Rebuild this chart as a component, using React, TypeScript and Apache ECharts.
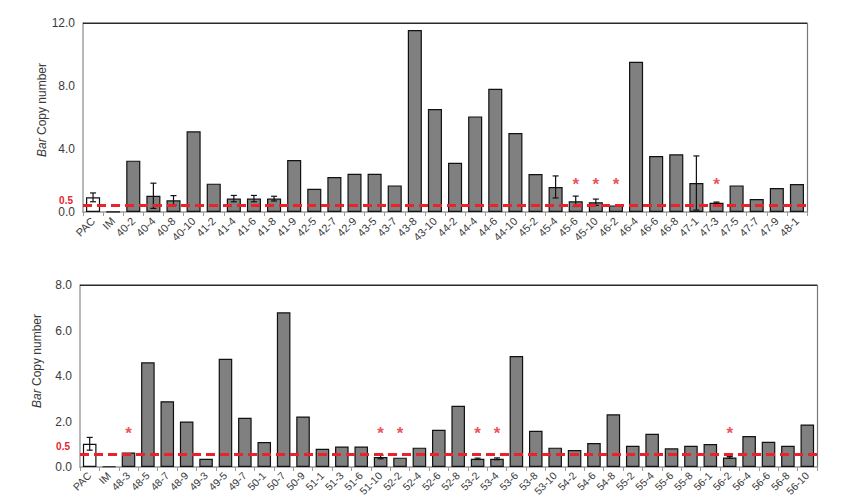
import React, { useEffect, useRef } from "react";
import * as echarts from "echarts";

// ---------- Data ----------
const topCategories = [
  "PAC", "IM", "40-2", "40-4", "40-8", "40-10", "41-2", "41-4", "41-6", "41-8",
  "41-9", "42-5", "42-7", "42-9", "43-5", "43-7", "43-8", "43-10", "44-2", "44-4",
  "44-6", "44-10", "45-2", "45-4", "45-6", "45-10", "46-2", "46-4", "46-6", "46-8",
  "47-1", "47-3", "47-5", "47-7", "47-9", "48-1",
];
const topValues = [
  0.93, 0.02, 3.26, 1.03, 0.74, 5.12, 1.8, 0.85, 0.85, 0.85,
  3.3, 1.48, 2.22, 2.43, 2.43, 1.69, 11.56, 6.54, 3.13, 6.07,
  7.83, 5.02, 2.41, 1.59, 0.68, 0.62, 0.42, 9.54, 3.56, 3.66,
  1.84, 0.59, 1.69, 0.83, 1.52, 1.78,
];
const topErrors = [
  0.28, 0, 0, 0.8, 0.3, 0, 0, 0.2, 0.2, 0.15,
  0, 0, 0, 0, 0, 0, 0, 0, 0, 0,
  0, 0, 0, 0.7, 0.33, 0.2, 0, 0, 0, 0,
  1.72, 0.04, 0, 0, 0, 0,
];
const topStarred = ["45-6", "45-10", "46-2", "47-3"];
const topYTicks = { min: 0, max: 12, interval: 4 };
const topThreshold = 0.4;
const topStarLevel = 1.97;

const bottomCategories = [
  "PAC", "IM", "48-3", "48-5", "48-7", "48-9", "49-3", "49-5", "49-7", "50-1",
  "50-7", "50-9", "51-1", "51-3", "51-6", "51-10", "52-2", "52-4", "52-6", "52-8",
  "53-2", "53-4", "53-6", "53-8", "53-10", "54-2", "54-6", "54-8", "55-2", "55-4",
  "55-6", "55-8", "56-1", "56-2", "56-4", "56-6", "56-8", "56-10",
];
const bottomValues = [
  1.02, 0.02, 0.64, 4.6, 2.89, 2.0, 0.36, 4.76, 2.16, 1.1,
  6.8, 2.22, 0.8, 0.9, 0.9, 0.44, 0.41, 0.85, 1.64, 2.69,
  0.36, 0.36, 4.88, 1.59, 0.85, 0.75, 1.05, 2.32, 0.93, 1.46,
  0.82, 0.93, 1.01, 0.42, 1.36, 1.11, 0.93, 1.87,
];
const bottomErrors = [
  0.28, 0, 0, 0, 0, 0, 0, 0, 0, 0,
  0, 0, 0, 0, 0, 0.08, 0, 0, 0, 0,
  0.03, 0.04, 0, 0, 0, 0, 0, 0, 0, 0,
  0, 0, 0, 0.04, 0, 0, 0, 0,
];
const bottomStarred = ["48-3", "51-10", "52-2", "53-2", "53-4", "56-2"];
const bottomYTicks = { min: 0, max: 8, interval: 2 };
const bottomThreshold = 0.57;
const bottomStarLevel = 1.64;

const thresholdLabel = "0.5";
const yAxisTitleItalic = "Bar";
const yAxisTitleRest = " Copy number";

// ---------- Styles / layout ----------
const FONT = "'Liberation Sans', Arial, sans-serif";
const BAR_FILL = "#808080";
const RED = "#e8232a";
const TEXT = "#3a3a3a";
const W = 848;
const H = 503;
const GRID_TOP = { left: 83, top: 23, right: 41, bottom: 291 };
const GRID_BOTTOM = { left: 80, top: 285, right: 31, bottom: 36 };

function errorSeries(idx: number, values: number[], errors: number[]) {
  return {
    type: "custom",
    xAxisIndex: idx,
    yAxisIndex: idx,
    z: 10,
    silent: true,
    renderItem: (_params: any, api: any) => {
      const x = api.value(0);
      const v = api.value(1);
      const e = api.value(2);
      if (!e) return null;
      const top = api.coord([x, v + e]);
      const bot = api.coord([x, Math.max(v - e, 0)]);
      const hw = 3;
      const st = { stroke: "#111", lineWidth: 1.2 };
      return {
        type: "group",
        children: [
          { type: "line", shape: { x1: top[0], y1: top[1], x2: bot[0], y2: bot[1] }, style: st },
          { type: "line", shape: { x1: top[0] - hw, y1: top[1], x2: top[0] + hw, y2: top[1] }, style: st },
          { type: "line", shape: { x1: bot[0] - hw, y1: bot[1], x2: bot[0] + hw, y2: bot[1] }, style: st },
        ],
      };
    },
    data: values.map((v, i) => [i, v, errors[i]]),
  };
}

function barSeries(idx: number, cats: string[], values: number[], threshold: number) {
  return {
    type: "bar",
    xAxisIndex: idx,
    yAxisIndex: idx,
    barCategoryGap: "30%",
    data: values.map((v, i) => ({
      value: v,
      itemStyle: {
        color: cats[i] === "PAC" ? "#ffffff" : BAR_FILL,
        borderColor: "#111",
        borderWidth: 1.2,
      },
    })),
    markLine: {
      silent: true,
      symbol: "none",
      label: { show: false },
      lineStyle: { color: RED, type: [9, 5], width: 3 },
      data: [{ yAxis: threshold }],
      z: 20,
    },
  };
}

function starSeries(idx: number, cats: string[], starred: string[], level: number) {
  return {
    type: "scatter",
    xAxisIndex: idx,
    yAxisIndex: idx,
    symbolSize: 0,
    silent: true,
    z: 15,
    label: {
      show: true,
      position: "inside",
      formatter: "*",
      color: RED,
      fontSize: 17,
      fontWeight: "bold",
      fontFamily: FONT,
      offset: [0, 4],
    },
    data: starred.map((c) => [cats.indexOf(c), level]),
  };
}

function axesFor(idx: number, cats: string[], ticks: { min: number; max: number; interval: number }, labelSize: number) {
  const xMain = {
    type: "category",
    gridIndex: idx,
    data: cats,
    boundaryGap: true,
    axisLine: { onZero: false, lineStyle: { color: "#9a9a9a", width: 1.5 } },
    axisTick: { show: true, alignWithLabel: false, length: 4, lineStyle: { color: "#9a9a9a" }, interval: 0 },
    axisLabel: { interval: 0, rotate: 45, fontSize: labelSize, color: TEXT, fontFamily: FONT, margin: 7 },
  };
  const yMain = {
    type: "value",
    gridIndex: idx,
    min: ticks.min,
    max: ticks.max,
    interval: ticks.interval,
    axisLine: { show: true, onZero: false, lineStyle: { color: "#a0a0a0", width: 1.5 } },
    axisTick: { show: false },
    splitLine: { show: false },
    axisLabel: {
      fontSize: 12,
      color: TEXT,
      fontFamily: FONT,
      margin: 8,
      formatter: (v: number) => v.toFixed(1),
    },
  };
  const yRight = {
    type: "value",
    gridIndex: idx,
    position: "right",
    min: ticks.min,
    max: ticks.max,
    interval: ticks.interval,
    axisLine: { show: true, onZero: false, lineStyle: { color: "#777", width: 1.2 } },
    axisTick: { show: false },
    splitLine: { show: false },
    axisLabel: { show: false },
  };
  return { xMain, yMain, yRight };
}

export default function App() {
  const ref = useRef<HTMLDivElement | null>(null);

  useEffect(() => {
    if (!ref.current) return;
    const chart = echarts.init(ref.current, null, { renderer: "svg" });

    const a0 = axesFor(0, topCategories, topYTicks, 11);
    const a1 = axesFor(1, bottomCategories, bottomYTicks, 10.5);

    const titleStyle = (x: number, y: number) => ({
      type: "text",
      x,
      y,
      rotation: Math.PI / 2,
      silent: true,
      style: {
        text: `{i|${yAxisTitleItalic}}{n|${yAxisTitleRest}}`,
        align: "center",
        verticalAlign: "middle",
        rich: {
          i: { fontStyle: "italic", fontSize: 12, fill: TEXT, fontFamily: FONT },
          n: { fontSize: 12, fill: TEXT, fontFamily: FONT },
        },
      },
    });

    const redLabel = (x: number, y: number) => ({
      type: "text",
      x,
      y,
      silent: true,
      style: {
        text: thresholdLabel,
        align: "right",
        verticalAlign: "middle",
        fill: RED,
        fontSize: 10,
        fontWeight: "bold",
        fontFamily: FONT,
      },
    });

    const topFrame = (g: { left: number; top: number; right: number }) => ({
      type: "rect",
      silent: true,
      z: 100,
      shape: { x: g.left, y: g.top - 0.5, width: W - g.right - g.left, height: 1.6 },
      style: { fill: "#2a2a2a" },
    });

    chart.setOption({
      animation: false,
      backgroundColor: "#ffffff",
      grid: [
        { ...GRID_TOP, containLabel: false },
        { ...GRID_BOTTOM, containLabel: false },
      ],
      xAxis: [a0.xMain, a1.xMain],
      yAxis: [a0.yMain, a1.yMain, a0.yRight, a1.yRight],
      series: [
        barSeries(0, topCategories, topValues, topThreshold),
        errorSeries(0, topValues, topErrors),
        starSeries(0, topCategories, topStarred, topStarLevel),
        barSeries(1, bottomCategories, bottomValues, bottomThreshold),
        errorSeries(1, bottomValues, bottomErrors),
        starSeries(1, bottomCategories, bottomStarred, bottomStarLevel),
      ],
      graphic: [
        topFrame(GRID_TOP),
        topFrame(GRID_BOTTOM),
        titleStyle(42, 110),
        titleStyle(37, 361),
        redLabel(73, 200.5),
        redLabel(70, 446),
      ],
    });

    return () => chart.dispose();
  }, []);

  return (
    <div
      ref={ref}
      style={{ position: "fixed", left: 0, top: 0, width: W, height: H, background: "#fff" }}
    />
  );
}
